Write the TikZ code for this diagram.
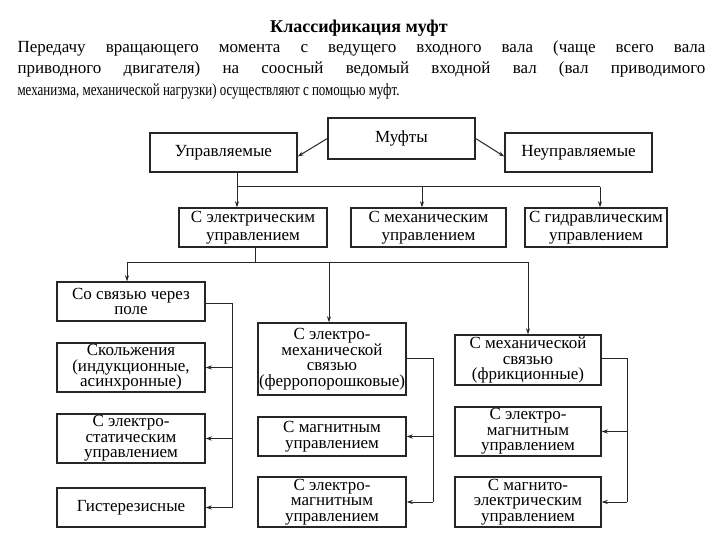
\documentclass[tikz,border=0pt]{standalone}
\usepackage{fontspec}
\setmainfont{Liberation Serif}
\usetikzlibrary{arrows.meta}
\begin{document}
\begin{tikzpicture}[x=1pt,y=-1pt,line width=1pt,draw=black!85,
  box/.style 2 args={draw,line width=1.4pt,align=center,inner sep=0pt,
    minimum width=#1pt,minimum height=#2pt,font=\fontsize{17}{15.5}\selectfont},
  wide/.style={font=\fontsize{17}{18.5}\selectfont},
  arr/.style={-{Stealth[length=6pt,width=4pt]}}]
\useasboundingbox (0,0) rectangle (720,540);
\node[font=\fontsize{18}{20}\selectfont\bfseries] (title) at (359,28) {Классификация муфт};
\node[text width=688pt,align=justify,inner sep=0pt,anchor=north west,
  font=\fontsize{17}{21.5}\selectfont] (intro) at (17,40)
  {Передачу вращающего момента с ведущего входного вала (чаще всего вала\linebreak
   приводного двигателя) на соосный ведомый входной вал (вал приводимого\linebreak
   \resizebox{382pt}{\height}{механизма, механической нагрузки) осуществляют с помощью муфт.}};
\node[box={147}{41}] (muft) at (401.5,138.5) {Муфты};
\node[box={147}{39}] (upr) at (223.5,152.5) {Управляемые};
\node[box={147}{39}] (neupr) at (578.5,152.5) {Неуправляемые};
\node[box={148}{39},wide] (elupr) at (253,227.5) {С электрическим\\управлением};
\node[box={155}{39},wide] (mehupr) at (428.5,227.5) {С механическим\\управлением};
\node[box={142}{39},wide] (gidr) at (596,227.5) {С гидравлическим\\управлением};
\node[box={148}{39}] (pole) at (131,301.5) {Со связью через\\поле};
\node[box={148}{49}] (skolzh) at (131,367.5) {Скольжения\\(индукционные,\\асинхронные)};
\node[box={148}{49}] (elstat) at (131,438.5) {С электро-\\статическим\\управлением};
\node[box={148}{39}] (gister) at (131,507.5) {Гистерезисные};
\node[box={148}{72}] (elmeh) at (332,359) {С электро-\\механической\\связью\\(ферропорошковые)};
\node[box={148}{39}] (magn) at (332,436.5) {С магнитным\\управлением};
\node[box={148}{50}] (elmagn) at (332,502) {С электро-\\магнитным\\управлением};
\node[box={146}{50}] (mehsv) at (528,360) {С механической\\связью\\(фрикционные)};
\node[box={146}{49}] (elmagnb) at (528,431.5) {С электро-\\магнитным\\управлением};
\node[box={146}{50}] (magnel) at (528,502) {С магнито-\\электрическим\\управлением};
\draw[arr] (muft.west) -- ([yshift=-4pt]upr.east);
\draw[arr] (muft.east) -- ([yshift=-4pt]neupr.west);
\coordinate (b1) at (237,187); \coordinate (b2) at (422,187); \coordinate (b3) at (600,187);
\draw[arr] (upr.south -| b1) -- (elupr.north -| b1);
\draw (b1) -- (b3);
\draw[arr] (b2) -- (mehupr.north -| b2);
\draw[arr] (b3) -- (gidr.north -| b3);
\coordinate (c0) at (255,262); \coordinate (c1) at (127,262);
\coordinate (c2) at (329,262); \coordinate (c3) at (528,262);
\draw (elupr.south -| c0) -- (c0);
\draw (c1) -- (c3);
\draw[arr] (c1) -- (pole.north -| c1);
\draw[arr] (c2) -- (elmeh.north -| c2);
\draw[arr] (c3) -- (mehsv.north -| c3);
\coordinate (d1) at (232,303);
\draw (pole.east |- d1) -- (d1) -- (d1 |- gister.east);
\draw[arr] (d1 |- skolzh.east) -- (skolzh.east);
\draw[arr] (d1 |- elstat.east) -- (elstat.east);
\draw[arr] (d1 |- gister.east) -- (gister.east);
\coordinate (d2) at (433,358);
\draw (elmeh.east |- d2) -- (d2) -- (d2 |- elmagn.east);
\draw[arr] (d2 |- magn.east) -- (magn.east);
\draw[arr] (d2 |- elmagn.east) -- (elmagn.east);
\coordinate (d3) at (627,358);
\draw (mehsv.east |- d3) -- (d3) -- (d3 |- magnel.east);
\draw[arr] (d3 |- elmagnb.east) -- (elmagnb.east);
\draw[arr] (d3 |- magnel.east) -- (magnel.east);
\end{tikzpicture}
\end{document}
